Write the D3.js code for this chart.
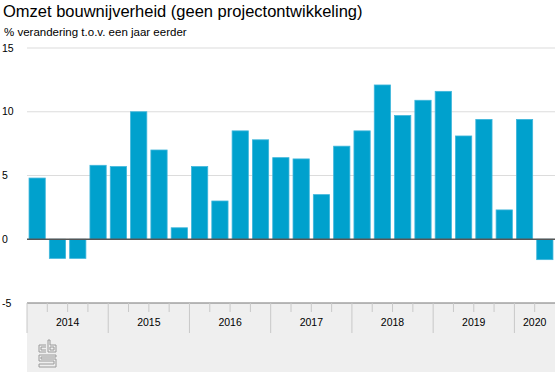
<!DOCTYPE html>
<html><head><meta charset="utf-8">
<script src="https://cdn.jsdelivr.net/npm/d3@7"></script>
<style>
html,body{margin:0;padding:0;background:#fff;}
svg{display:block;font-family:"Liberation Sans",Arial,Helvetica,sans-serif;}
</style></head>
<body>
<svg id="chart" width="555" height="372"></svg>
<script>
const title = "Omzet bouwnijverheid (geen projectontwikkeling)";
const subtitle = "% verandering t.o.v. een jaar eerder";
const years = ["2014","2015","2016","2017","2018","2019","2020"];
const quartersPerYear = [4,4,4,4,4,4,2];
const quarters = ["2014Q1","2014Q2","2014Q3","2014Q4","2015Q1","2015Q2","2015Q3","2015Q4",
  "2016Q1","2016Q2","2016Q3","2016Q4","2017Q1","2017Q2","2017Q3","2017Q4",
  "2018Q1","2018Q2","2018Q3","2018Q4","2019Q1","2019Q2","2019Q3","2019Q4","2020Q1","2020Q2"];
const values = [4.8,-1.5,-1.5,5.8,5.7,10.0,7.0,0.9,5.7,3.0,8.5,7.8,6.4,6.3,3.5,7.3,
  8.5,12.1,9.7,10.9,11.6,8.1,9.4,2.3,9.4,-1.6];
const yTicks = [-5,0,5,10,15];

(function(){
const svg = d3.select("#chart");
const pLeft = 27, pRight = 555, pTop = 48, pBottom = 303;

const x = d3.scaleBand().domain(quarters).range([pLeft,pRight]).paddingInner(0.2).paddingOuter(0.1);
const y = d3.scaleLinear().domain([-5,15]).range([pBottom,pTop]);
const step = x.step();
const boundary = i => x(quarters[i]) - step*0.1;

svg.append("text").attr("x",3).attr("y",17).attr("font-size",16.5).attr("fill","#000").text(title);
svg.append("text").attr("x",4).attr("y",36).attr("font-size",11.5).attr("fill","#000").text(subtitle);

svg.append("rect").attr("x",pLeft).attr("y",pBottom).attr("width",pRight-pLeft).attr("height",372-pBottom).attr("fill","#efefef");

svg.append("g").selectAll("line").data(yTicks.filter(d=>d>0)).join("line")
  .attr("x1",pLeft).attr("x2",pRight).attr("y1",d=>y(d)).attr("y2",d=>y(d))
  .attr("stroke","#dcdcdc").attr("stroke-width",1.2);

svg.append("g").selectAll("text").data(yTicks).join("text")
  .attr("x",2).attr("y",d=>y(d)).attr("dy","0.35em").attr("font-size",10.5).attr("fill","#000")
  .text(d=>d);

svg.append("g").selectAll("rect").data(values).join("rect")
  .attr("x",(d,i)=>x(quarters[i])).attr("width",x.bandwidth())
  .attr("y",d=>y(Math.max(0,d))).attr("height",d=>Math.abs(y(d)-y(0)))
  .attr("fill","#00a1cd").attr("stroke","#3fb6db").attr("stroke-width",0.8);

svg.append("line").attr("x1",pLeft).attr("x2",pRight).attr("y1",y(0)).attr("y2",y(0))
  .attr("stroke","#555").attr("stroke-width",1.5);
svg.append("line").attr("x1",pLeft).attr("x2",pRight).attr("y1",y(-5)).attr("y2",y(-5))
  .attr("stroke","#777").attr("stroke-width",1.2);

let idx = 0;
const yearInfo = [];
years.forEach((yr,k)=>{
  const start = idx, n = quartersPerYear[k];
  yearInfo.push({yr, start, end: start+n});
  idx += n;
});
const gx = svg.append("g");
yearInfo.forEach(info=>{
  const x0 = boundary(info.start);
  gx.append("line").attr("x1",x0).attr("x2",x0).attr("y1",pBottom).attr("y2",333)
    .attr("stroke","#c8c8c8").attr("stroke-width",1);
  for(let q=info.start+1;q<info.end;q++){
    const xq = boundary(q);
    gx.append("line").attr("x1",xq).attr("x2",xq).attr("y1",pBottom).attr("y2",312)
      .attr("stroke","#c8c8c8").attr("stroke-width",1);
  }
  const x1 = info.end < quarters.length ? boundary(info.end) : pRight;
  gx.append("text").attr("x",(x0+x1)/2).attr("y",322).attr("dy","0.35em")
    .attr("text-anchor","middle").attr("font-size",10.5).attr("fill","#000").text(info.yr);
});

const lg = svg.append("g").attr("fill","none").attr("stroke","#9a9a9a").attr("stroke-width",1);
lg.append("path").attr("d","M46,345 H39 V352 H46 M46,347 H41 V350 H46");
lg.append("path").attr("d","M48,340 V352 H56 V345 H50 V340 Z M50,347 H54 V350 H50 Z");
lg.append("path").attr("d","M56,355 H39 V361 H54 V364 H39 V367 H56 V359 H41 V357 H56 Z");
})();
</script>
</body></html>
